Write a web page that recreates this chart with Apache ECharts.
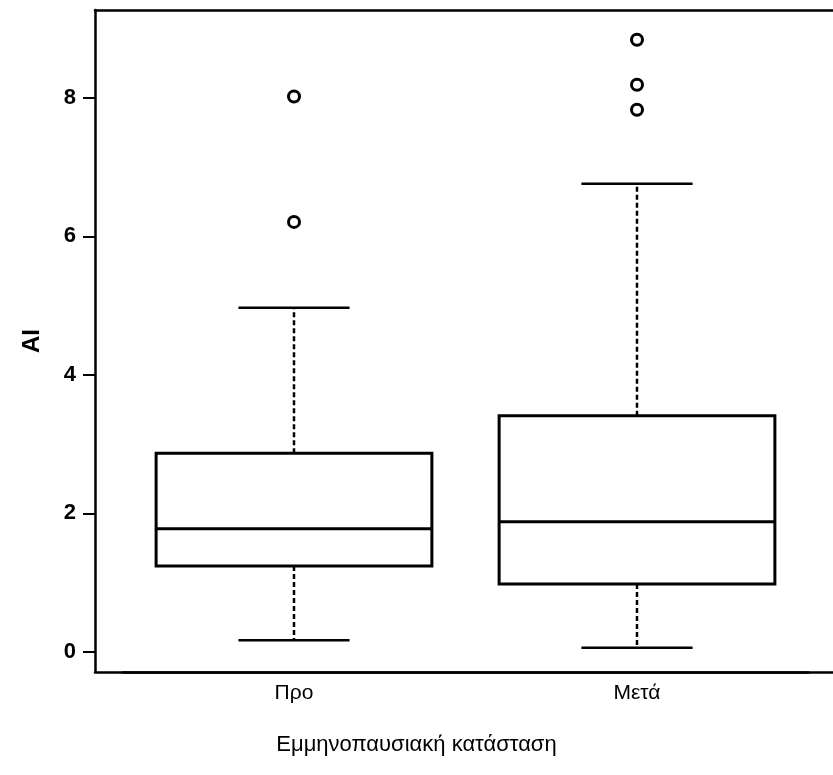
<!DOCTYPE html>
<html>
<head>
<meta charset="utf-8">
<script src="https://cdn.jsdelivr.net/npm/echarts@6/dist/echarts.min.js"></script>
<style>
  html, body { margin: 0; padding: 0; background: #fff; }
  #box { width: 833px; height: 775px; }
</style>
</head>
<body>
<div id="box"></div>
<script>
// κατηγορίες και τιμές του boxplot
var categories = ['Προ', 'Μετά'];
var lowWhisker = [0.17, 0.06];
var q1 = [1.24, 0.98];
var median = [1.78, 1.88];
var q3 = [2.87, 3.41];
var highWhisker = [4.97, 6.76];
// outliers ανά κατηγορία
var proOutliers = [8.02, 6.21];
var metaOutliers = [8.84, 8.19, 7.83];
var yTicks = [0, 2, 4, 6, 8];

var yMin = -0.29, yMax = 9.27;
var font = 'Liberation Sans, Arial, sans-serif';

var boxData = categories.map(function (c, i) {
    return [i, lowWhisker[i], q1[i], median[i], q3[i], highWhisker[i]];
});
var outlierData = [];
proOutliers.forEach(function (v) { outlierData.push([0, v]); });
metaOutliers.forEach(function (v) { outlierData.push([1, v]); });

function renderBox(params, api) {
    var x = api.value(0);
    var band = api.size([1, 0])[0];
    var half = band * 0.402;
    var cap = band * 0.162;
    var pLow = api.coord([x, api.value(1)]);
    var pQ1 = api.coord([x, api.value(2)]);
    var pMed = api.coord([x, api.value(3)]);
    var pQ3 = api.coord([x, api.value(4)]);
    var pHigh = api.coord([x, api.value(5)]);
    var cx = pMed[0];
    var dashed = { stroke: '#000', lineWidth: 2.5, lineDash: [5, 3] };
    var solid = { stroke: '#000', lineWidth: 2.5 };
    return {
        type: 'group',
        children: [
            { type: 'line', shape: { x1: cx, y1: pQ3[1], x2: cx, y2: pHigh[1] }, style: dashed },
            { type: 'line', shape: { x1: cx, y1: pQ1[1], x2: cx, y2: pLow[1] }, style: dashed },
            { type: 'line', shape: { x1: cx - cap, y1: pHigh[1], x2: cx + cap, y2: pHigh[1] }, style: solid },
            { type: 'line', shape: { x1: cx - cap, y1: pLow[1], x2: cx + cap, y2: pLow[1] }, style: solid },
            {
                type: 'rect',
                shape: { x: cx - half, y: pQ3[1], width: half * 2, height: pQ1[1] - pQ3[1] },
                style: { fill: '#fff', stroke: '#000', lineWidth: 3 }
            },
            { type: 'line', shape: { x1: cx - half, y1: pMed[1], x2: cx + half, y2: pMed[1] }, style: { stroke: '#000', lineWidth: 3 } }
        ]
    };
}

var frameLine = { show: true, onZero: false, lineStyle: { color: '#000', width: 2.5 } };

var chart = echarts.init(document.getElementById('box'));
chart.setOption({
    backgroundColor: '#fff',
    animation: false,
    grid: [
        { left: 122.5, right: 24.5, top: 10, bottom: 103 },
        { left: 95, right: 0, top: 10, bottom: 103 }
    ],
    xAxis: [
        {
            type: 'category', gridIndex: 0, data: categories,
            axisLine: frameLine,
            axisTick: { alignWithLabel: true, length: 11, lineStyle: { color: '#000', width: 2 } },
            axisLabel: { color: '#000', fontSize: 21, fontFamily: font, margin: 11 },
            name: 'Εμμηνοπαυσιακή κατάσταση', nameLocation: 'middle', nameGap: 62,
            nameTextStyle: { color: '#000', fontSize: 22, fontFamily: font, padding: [0, 98, 0, 0] }
        },
        // πλαίσιο: κάτω και πάνω γραμμή
        { type: 'value', gridIndex: 1, position: 'bottom', axisLine: frameLine, axisTick: { show: false }, axisLabel: { show: false }, splitLine: { show: false } },
        { type: 'value', gridIndex: 1, position: 'top', axisLine: frameLine, axisTick: { show: false }, axisLabel: { show: false }, splitLine: { show: false } }
    ],
    yAxis: [
        { type: 'value', gridIndex: 0, min: yMin, max: yMax, show: false },
        {
            type: 'value', gridIndex: 1, min: yMin, max: yMax,
            splitLine: { show: false },
            axisLine: frameLine,
            axisTick: { show: true, length: 12, customValues: yTicks, lineStyle: { color: '#000', width: 2 } },
            axisLabel: { color: '#000', fontSize: 22, fontWeight: 'bold', fontFamily: font, margin: 19, customValues: yTicks },
            name: 'AI', nameLocation: 'middle', nameGap: 51,
            nameTextStyle: { color: '#000', fontSize: 24, fontWeight: 'bold', fontFamily: font }
        }
    ],
    series: [
        {
            type: 'custom', xAxisIndex: 0, yAxisIndex: 0,
            renderItem: renderBox,
            encode: { x: 0, y: [1, 2, 3, 4, 5] },
            data: boxData
        },
        {
            type: 'scatter', xAxisIndex: 0, yAxisIndex: 0,
            symbol: 'circle', symbolSize: 11,
            itemStyle: { color: '#fff', borderColor: '#000', borderWidth: 3, opacity: 1 },
            data: outlierData
        }
    ]
});
</script>
</body>
</html>
